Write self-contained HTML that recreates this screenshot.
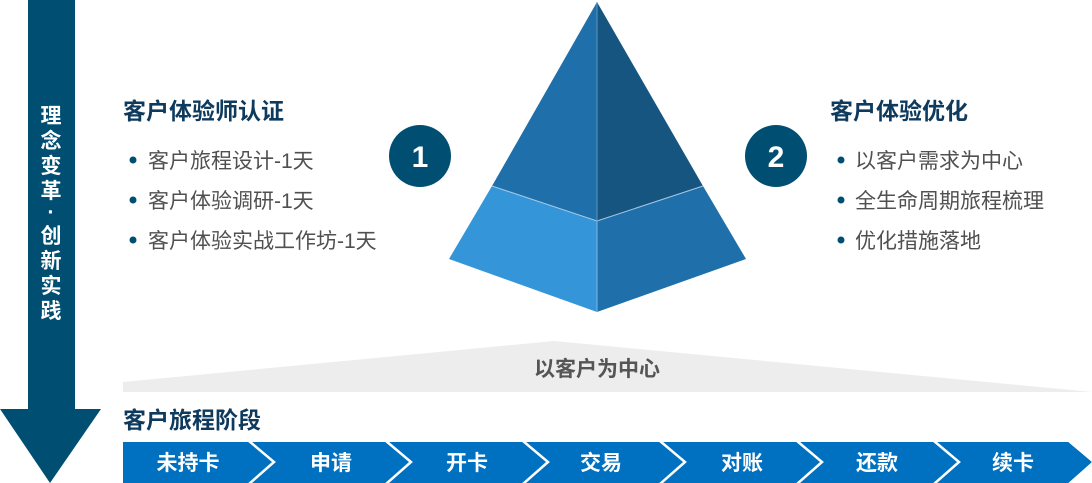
<!DOCTYPE html>
<html><head><meta charset="utf-8"><style>
html,body{margin:0;padding:0;background:#fff;}
svg{display:block;font-family:"Liberation Sans","Noto Sans CJK SC",sans-serif;}
</style></head><body>
<svg width="1092" height="483" viewBox="0 0 1092 483" xmlns="http://www.w3.org/2000/svg">
<polygon points="28,0 75,0 75,409 101,409 50,483 0,409 28,409" fill="#004f72"/>
<g fill="#fff" font-size="21" font-weight="bold" text-anchor="middle">
<text x="51" y="123">理</text><text x="51" y="148">念</text><text x="51" y="173">变</text><text x="51" y="198">革</text>
<text x="51" y="219">·</text>
<text x="51" y="243">创</text><text x="51" y="268">新</text><text x="51" y="293">实</text><text x="51" y="318">践</text>
</g>
<polygon points="597,2 597,221 492,186" fill="#1f70aa"/>
<polygon points="597,2 703,186 597,221" fill="#175581"/>
<polygon points="492,186 597,221 597,312 449,259" fill="#3495d8"/>
<polygon points="597,221 703,186 746,259 597,312" fill="#1f70aa"/>
<polyline points="492,186 597,221 703,186" fill="none" stroke="#a9c8e4" stroke-width="1"/>
<line x1="597" y1="221" x2="597" y2="312" stroke="#7fb6e2" stroke-width="1"/>
<line x1="597" y1="2" x2="597" y2="221" stroke="#5d93c0" stroke-width="1"/>
<circle cx="420" cy="156" r="31" fill="#004f72"/>
<text x="420" y="167" fill="#fff" font-size="30" font-weight="bold" text-anchor="middle">1</text>
<circle cx="776" cy="156" r="31" fill="#004f72"/>
<text x="776" y="167" fill="#fff" font-size="30" font-weight="bold" text-anchor="middle">2</text>
<text x="123" y="119" fill="#0e3a5e" font-size="23" font-weight="bold">客户体验师认证</text>
<g fill="#505050" font-size="21">
<text x="148" y="168">客户旅程设计-1天</text>
<text x="148" y="208">客户体验调研-1天</text>
<text x="148" y="248">客户体验实战工作坊-1天</text>
<text x="855" y="168">以客户需求为中心</text>
<text x="855" y="208">全生命周期旅程梳理</text>
<text x="855" y="248">优化措施落地</text>
</g>
<g fill="#004f72">
<circle cx="133" cy="160" r="3.5"/><circle cx="133" cy="200" r="3.5"/><circle cx="133" cy="240" r="3.5"/>
<circle cx="841" cy="160" r="3.5"/><circle cx="841" cy="200" r="3.5"/><circle cx="841" cy="240" r="3.5"/>
</g>
<text x="830" y="119" fill="#0e3a5e" font-size="23" font-weight="bold">客户体验优化</text>
<polygon points="123,382 554,341 1092,392 123,392" fill="#ededed"/>
<text x="597" y="376" fill="#555" font-size="21" font-weight="bold" text-anchor="middle">以客户为中心</text>
<text x="123" y="428" fill="#0e3a5e" font-size="23" font-weight="bold">客户旅程阶段</text>
<polygon points="123,442 1069,442 1092,462 1069,483 123,483" fill="#0070c0"/>
<g fill="none" stroke="#fff" stroke-width="2.5">
<polyline points="249,441 274,462 249,484"/>
<polyline points="386,441 411,462 386,484"/>
<polyline points="523,441 548,462 523,484"/>
<polyline points="660,441 685,462 660,484"/>
<polyline points="797,441 822,462 797,484"/>
<polyline points="934,441 959,462 934,484"/>
<polyline points="1069,441 1094,462 1069,484"/>
</g>
<g fill="#fff" font-size="21" font-weight="bold" text-anchor="middle">
<text x="188" y="470">未持卡</text>
<text x="331" y="470">申请</text>
<text x="467" y="470">开卡</text>
<text x="601" y="470">交易</text>
<text x="742" y="470">对账</text>
<text x="877" y="470">还款</text>
<text x="1013" y="470">续卡</text>
</g>
</svg>
</body></html>
